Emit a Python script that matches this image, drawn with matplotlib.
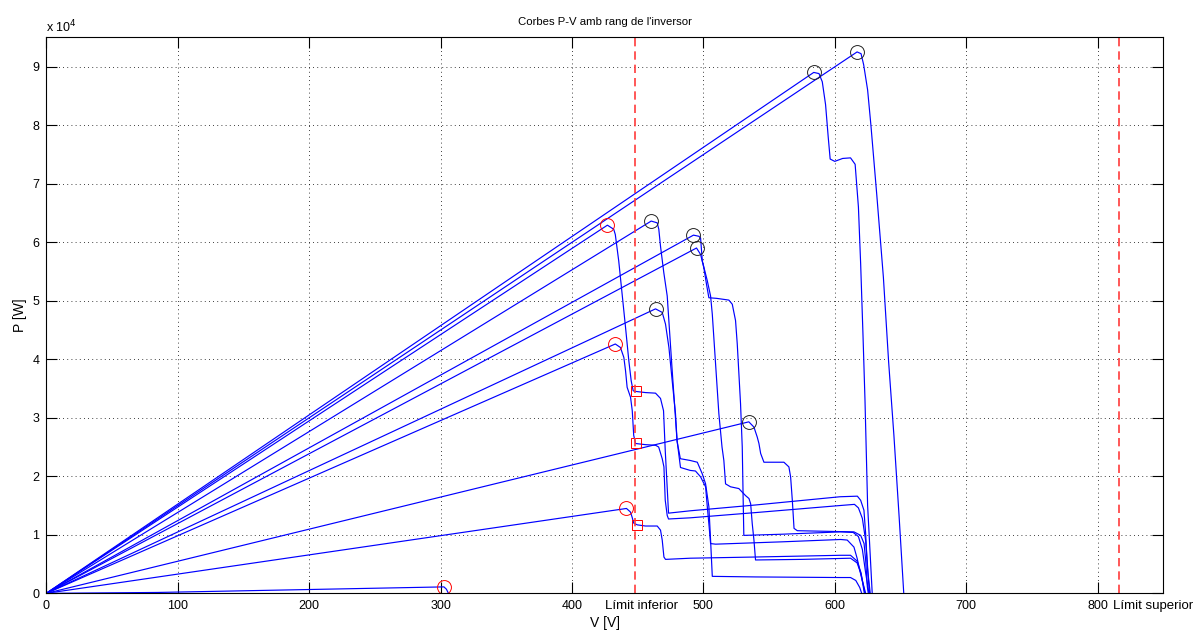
import matplotlib
matplotlib.use('Agg')
import matplotlib.pyplot as plt
import matplotlib.transforms as mtransforms

plt.rcParams['font.family'] = ['Liberation Sans', 'DejaVu Sans']

# P-V curves, V in volts, P in units of 1e4 W
c1_v = [0, 617, 620, 622, 625, 627.5, 632, 637, 641, 645, 649, 652.5]
c1_p = [0, 9.25, 9.22, 9.03, 8.6, 8.0, 6.8, 5.4, 3.95, 2.7, 1.3, 0]

c2_v = [0, 584, 588, 590.5, 593, 595, 596.5, 600, 606, 612, 615.5, 618, 619.7, 621.5, 623, 625, 628.5]
c2_p = [0, 8.9, 8.88, 8.74, 8.35, 7.8, 7.42, 7.38, 7.43, 7.44, 7.33, 6.6, 5.63, 4.4, 3.3, 1.5, 0]

cA_v = [0, 427, 431.8, 433, 435.6, 438.2, 440.8, 443.3, 445.1, 446.6, 448.4, 456, 463.6, 467.4,
        469.7, 471, 472.6, 473.5, 490, 540, 604, 617.2, 619.7, 622.2, 623.5, 624.8, 626.5]
cA_p = [0, 6.29, 6.22, 6.13, 5.68, 5.11, 4.54, 3.97, 3.63, 3.46, 3.45, 3.43, 3.42, 3.33,
        3.12, 2.44, 1.76, 1.37, 1.41, 1.51, 1.65, 1.66, 1.59, 1.42, 1.02, 0.45, 0]

cB_v = [0, 433, 436.9, 439.5, 440.8, 442, 444.6, 445.9, 447, 448.4, 456, 463.6, 466, 468.7,
        470, 471, 472.5, 473.5, 490, 540, 604, 615, 618, 621, 623.5, 625.5, 627]
cB_p = [0, 4.26, 4.2, 4.03, 3.8, 3.52, 3.35, 3.12, 2.7, 2.56, 2.54, 2.53, 2.5, 2.3,
        2.16, 1.59, 1.33, 1.27, 1.29, 1.38, 1.50, 1.52, 1.46, 1.28, 0.9, 0.3, 0]

cC_v = [0, 460.3, 464.9, 466.1, 467.4, 469.9, 472.5, 476, 480, 482.5, 490, 495.4, 499.2,
        501.7, 504.2, 505.5, 506.8, 540, 604, 612, 616, 619, 620.5]
cC_p = [0, 6.36, 6.33, 6.22, 5.93, 5.48, 5.08, 3.9, 2.6, 2.3, 2.27, 2.24, 2.04,
        1.87, 1.48, 0.91, 0.29, 0.28, 0.27, 0.27, 0.22, 0.1, 0]

cD_v = [0, 463.6, 468.7, 471.2, 473.8, 476.3, 478.8, 480, 482.6, 490, 494, 497.9, 501.7,
        503, 504.2, 505.5, 509.3, 560, 604.5, 609.5, 614.6, 617, 620, 623.5]
cD_p = [0, 4.86, 4.8, 4.6, 4.2, 3.63, 3.07, 2.61, 2.15, 2.1, 2.09, 1.99, 1.82,
        1.48, 1.19, 0.85, 0.84, 0.88, 0.92, 0.91, 0.79, 0.6, 0.3, 0]

cE_v = [0, 534.6, 538.5, 541, 542.3, 543.6, 546.1, 561.3, 565.1, 566.4, 567.7, 569, 571.5,
        614.6, 619.7, 622.3, 623.5, 624.8, 625.5]
cE_p = [0, 2.93, 2.84, 2.67, 2.56, 2.39, 2.24, 2.24, 2.16, 1.99, 1.59, 1.11, 1.07,
        1.05, 0.99, 0.85, 0.57, 0.11, 0]

cF_v = [0, 492.5, 496.6, 497.9, 499.2, 503, 505.5, 506.8, 509.3, 511.8, 514.2, 515.6, 516.9,
        520.7, 527, 532.1, 534.7, 536, 537.2, 538.5, 539.7, 575, 612, 617, 620, 623]
cF_p = [0, 6.12, 6.1, 6.07, 5.68, 5.34, 5.08, 4.77, 3.92, 3.07, 2.5, 2.27, 1.87,
        1.82, 1.79, 1.67, 1.62, 1.53, 1.19, 0.91, 0.57, 0.58, 0.6, 0.52, 0.33, 0]

cG_v = [0, 494.8, 497.9, 500.4, 502.4, 504.2, 510, 519.4, 522, 524.5, 525.8, 528.3, 529.6,
        530.3, 530.8, 560, 604.5, 614, 618, 621, 623.5, 626]
cG_p = [0, 5.9, 5.79, 5.56, 5.28, 5.05, 5.04, 5.01, 4.94, 4.66, 4.26, 3.24, 2.5,
        1.6, 0.99, 1.01, 1.05, 1.04, 0.97, 0.75, 0.35, 0]

c10_v = [0, 441.5, 444.5, 445.8, 447, 449.7, 456, 464.9, 467.4, 468.7, 470, 471.2, 490,
         538.5, 604.5, 612, 617, 620, 622.5]
c10_p = [0, 1.45, 1.39, 1.3, 1.2, 1.17, 1.15, 1.15, 1.08, 0.91, 0.62, 0.58, 0.6,
         0.62, 0.65, 0.65, 0.55, 0.35, 0]

c11_v = [0, 85, 302.6, 304.5, 306]
c11_p = [0, 0.015, 0.11, 0.07, 0]

curves = [(c1_v, c1_p), (c2_v, c2_p), (cA_v, cA_p), (cB_v, cB_p), (cC_v, cC_p),
          (cD_v, cD_p), (cE_v, cE_p), (cF_v, cF_p), (cG_v, cG_p), (c10_v, c10_p),
          (c11_v, c11_p)]

# MPP inside inverter range (black) / outside (red), and limited points (squares)
mpp_ok_v = [617, 584, 460.3, 463.6, 534.6, 492.5, 494.8]
mpp_ok_p = [9.25, 8.9, 6.36, 4.86, 2.93, 6.12, 5.9]
mpp_out_v = [427, 433, 441.5, 302.6]
mpp_out_p = [6.29, 4.26, 1.45, 0.11]
sq_v = [448.4, 448.4, 449.7]
sq_p = [3.45, 2.56, 1.17]

v_inf = 448
v_sup = 816

fig = plt.figure(figsize=(11.93, 6.31), dpi=100)
ax = fig.add_axes([0.0388, 0.0597, 0.9363, 0.8812])

for v, p in curves:
    ax.plot(v, p, color='#0000ff', lw=0.85)

ax.plot(mpp_ok_v, mpp_ok_p, 'o', mfc='none', mec='#222222', ms=10, mew=0.7)
ax.plot(mpp_out_v, mpp_out_p, 'o', mfc='none', mec='red', ms=10, mew=0.7)
ax.plot(sq_v, sq_p, 's', mfc='none', mec='red', ms=7.5, mew=0.7)

for lim in (v_inf, v_sup):
    ax.axvline(lim, color='#ff3b3b', lw=1.2, dashes=(5, 3))

ax.set_xlim(0, 850)
ax.set_ylim(0, 9.5)
ax.set_xticks(range(0, 801, 100))
ax.set_yticks(range(0, 10))
ax.tick_params(direction='in', length=8, top=True, right=True, labelsize=9, pad=5, width=0.8)
ax.grid(True, linestyle=(0, (1, 4)), color='black', lw=0.6)
ax.set_axisbelow(True)
for s in ax.spines.values():
    s.set_linewidth(0.8)

ax.set_title("Corbes P-V amb rang de l'inversor", fontsize=8.2, pad=9)
ax.set_xlabel('V [V]', fontsize=10, labelpad=3)
ax.set_ylabel('P [W]', fontsize=10, labelpad=4)
ax.text(0.0, 1.004, r'x 10$^4$', transform=ax.transAxes, fontsize=9, ha='left', va='bottom')

trans = mtransforms.blended_transform_factory(ax.transData, ax.transAxes)
ax.text(425.5, -0.022, 'Límit inferior', transform=trans, fontsize=9.5, ha='left', va='center',
        clip_on=False)
ax.text(811.6, -0.022, 'Límit superior', transform=trans, fontsize=9.5, ha='left', va='center',
        clip_on=False)

fig.savefig('out.png', dpi=100)
